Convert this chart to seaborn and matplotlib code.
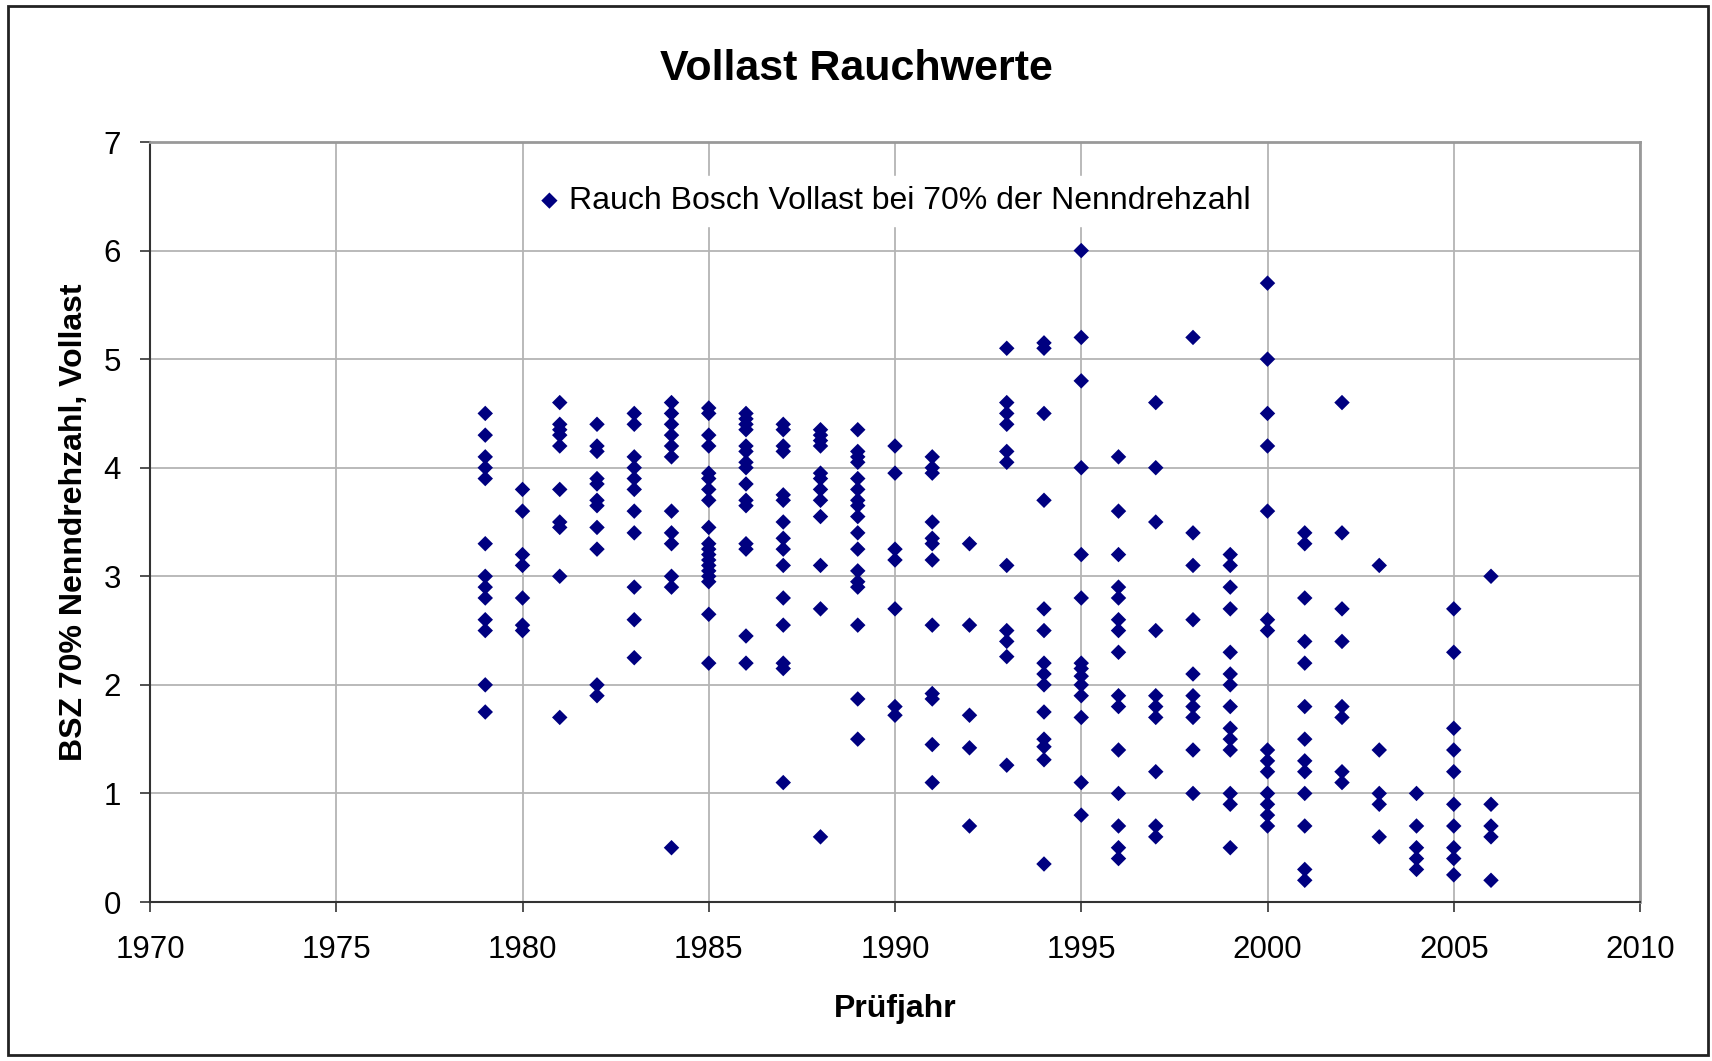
import pandas as pd
import matplotlib.pyplot as plt
import seaborn as sns
from matplotlib.patches import Rectangle

# smoke values (BSZ) per test year
smoke_1979 = [4.5, 4.3, 4.1, 4.0, 3.9, 3.3, 3.0, 2.9, 2.8, 2.6, 2.5, 2.0, 1.75]
smoke_1980 = [3.8, 3.6, 3.2, 3.1, 2.8, 2.55, 2.5]
smoke_1981 = [4.6, 4.4, 4.35, 4.3, 4.2, 3.8, 3.5, 3.45, 3.0, 1.7]
smoke_1982 = [4.4, 4.2, 4.15, 3.9, 3.85, 3.7, 3.65, 3.45, 3.25, 2.0, 1.9]
smoke_1983 = [4.5, 4.4, 4.1, 4.0, 3.9, 3.8, 3.6, 3.4, 2.9, 2.6, 2.25]
smoke_1984 = [4.6, 4.5, 4.4, 4.3, 4.2, 4.1, 3.6, 3.4, 3.3, 3.0, 2.9, 0.5]
smoke_1985 = [4.55, 4.5, 4.3, 4.2, 3.95, 3.9, 3.8, 3.7, 3.45, 3.3, 3.25, 3.2,
              3.15, 3.1, 3.05, 3.0, 2.95, 2.65, 2.2]
smoke_1986 = [4.5, 4.45, 4.4, 4.35, 4.2, 4.15, 4.05, 4.0, 3.85, 3.7, 3.65, 3.3,
              3.25, 2.45, 2.2]
smoke_1987 = [4.4, 4.35, 4.2, 4.15, 3.75, 3.7, 3.5, 3.35, 3.25, 3.1, 2.8, 2.55,
              2.2, 2.15, 1.1]
smoke_1988 = [4.35, 4.3, 4.25, 4.2, 3.95, 3.9, 3.8, 3.7, 3.55, 3.1, 2.7, 0.6]
smoke_1989 = [4.35, 4.15, 4.1, 4.05, 3.9, 3.8, 3.7, 3.65, 3.55, 3.4, 3.25, 3.05,
              2.95, 2.9, 2.55, 1.87, 1.5]
smoke_1990 = [4.2, 3.95, 3.25, 3.15, 2.7, 1.8, 1.72]
smoke_1991 = [4.1, 4.0, 3.95, 3.5, 3.35, 3.3, 3.15, 2.55, 1.92, 1.87, 1.45, 1.1]
smoke_1992 = [3.3, 2.55, 1.72, 1.42, 0.7]
smoke_1993 = [5.1, 4.6, 4.5, 4.4, 4.15, 4.05, 3.1, 2.5, 2.4, 2.26, 1.26]
smoke_1994 = [5.15, 5.1, 4.5, 3.7, 2.7, 2.5, 2.2, 2.1, 2.0, 1.75, 1.5, 1.43,
              1.31, 0.35]
smoke_1995 = [6.0, 5.2, 4.8, 4.0, 3.2, 2.8, 2.2, 2.15, 2.08, 2.0, 1.9, 1.7,
              1.1, 0.8]
smoke_1996 = [4.1, 3.6, 3.2, 2.9, 2.8, 2.6, 2.5, 2.3, 1.9, 1.8, 1.4, 1.0, 0.7,
              0.5, 0.4]
smoke_1997 = [4.6, 4.0, 3.5, 2.5, 1.9, 1.8, 1.7, 1.2, 0.7, 0.6]
smoke_1998 = [5.2, 3.4, 3.1, 2.6, 2.1, 1.9, 1.8, 1.7, 1.4, 1.0]
smoke_1999 = [3.2, 3.1, 2.9, 2.7, 2.3, 2.1, 2.0, 1.8, 1.6, 1.5, 1.4, 1.0, 0.9,
              0.5]
smoke_2000 = [5.7, 5.0, 4.5, 4.2, 3.6, 2.6, 2.5, 1.4, 1.3, 1.2, 1.0, 0.9, 0.8,
              0.7]
smoke_2001 = [3.4, 3.3, 2.8, 2.4, 2.2, 1.8, 1.5, 1.3, 1.2, 1.0, 0.7, 0.3, 0.2]
smoke_2002 = [4.6, 3.4, 2.7, 2.4, 1.8, 1.7, 1.2, 1.1]
smoke_2003 = [3.1, 1.4, 1.0, 0.9, 0.6]
smoke_2004 = [1.0, 0.7, 0.5, 0.4, 0.3]
smoke_2005 = [2.7, 2.3, 1.6, 1.4, 1.2, 0.9, 0.7, 0.5, 0.4, 0.25]
smoke_2006 = [3.0, 0.9, 0.7, 0.6, 0.2]

years = list(range(1979, 2007))
smoke_by_year = [smoke_1979, smoke_1980, smoke_1981, smoke_1982, smoke_1983,
                 smoke_1984, smoke_1985, smoke_1986, smoke_1987, smoke_1988,
                 smoke_1989, smoke_1990, smoke_1991, smoke_1992, smoke_1993,
                 smoke_1994, smoke_1995, smoke_1996, smoke_1997, smoke_1998,
                 smoke_1999, smoke_2000, smoke_2001, smoke_2002, smoke_2003,
                 smoke_2004, smoke_2005, smoke_2006]

x_ticks = [1970, 1975, 1980, 1985, 1990, 1995, 2000, 2005, 2010]
y_ticks = [0, 1, 2, 3, 4, 5, 6, 7]

rows = []
for year, vals in zip(years, smoke_by_year):
    for v in vals:
        rows.append({"Prüfjahr": year, "BSZ": v})
df = pd.DataFrame(rows)

sns.set_style("ticks")
plt.rcParams["font.family"] = ["Liberation Sans", "DejaVu Sans"]
plt.rcParams["text.color"] = "black"
plt.rcParams["axes.labelcolor"] = "black"
plt.rcParams["xtick.labelcolor"] = "black"
plt.rcParams["ytick.labelcolor"] = "black"

fig = plt.figure(figsize=(17.12, 10.61), dpi=100)
ax = fig.add_axes([150 / 1712, 1 - 902 / 1061, 1490 / 1712, 760 / 1061])

ax.grid(True, color="#b4b4b4", linewidth=1.3)
ax.set_axisbelow(True)

sns.scatterplot(
    data=df,
    x="Prüfjahr",
    y="BSZ",
    marker="D",
    s=62,
    color="#000080",
    edgecolor="none",
    linewidth=0,
    label="Rauch Bosch Vollast bei 70% der Nenndrehzahl",
    ax=ax,
    zorder=3,
)

ax.set_xlim(1970, 2010)
ax.set_ylim(0, 7)
ax.set_xticks(x_ticks)
ax.set_yticks(y_ticks)
ax.tick_params(axis="both", labelsize=22.5, length=7, width=1.2,
               color="#333333", pad=14)
ax.tick_params(axis="x", pad=17)

for side in ["left", "bottom"]:
    ax.spines[side].set_color("#333333")
    ax.spines[side].set_linewidth(1.5)
for side in ["top", "right"]:
    ax.spines[side].set_visible(True)
    ax.spines[side].set_color("#999999")
    ax.spines[side].set_linewidth(2)

ax.set_xlabel("Prüfjahr", fontsize=23, fontweight="bold", labelpad=21)
ax.set_ylabel("BSZ 70% Nenndrehzahl, Vollast", fontsize=23,
              fontweight="bold", labelpad=10)

leg = ax.legend(
    loc="center",
    bbox_to_anchor=(0.5, (902 - 201) / 760),
    fontsize=23,
    frameon=True,
    facecolor="white",
    edgecolor="white",
    framealpha=1,
    fancybox=False,
    handlelength=0.6,
    handletextpad=0.3,
    borderpad=0.3,
    markerscale=1.05,
)

fig.text(0.5, 1 - 69 / 1061, "Vollast Rauchwerte", fontsize=31,
         fontweight="bold", ha="center", va="center")

fig.patches.append(Rectangle((8 / 1712, 6 / 1061), 1700 / 1712, 1049 / 1061,
                             transform=fig.transFigure, fill=False,
                             edgecolor="#222222", linewidth=2))

plt.savefig("out.png", dpi=100)
